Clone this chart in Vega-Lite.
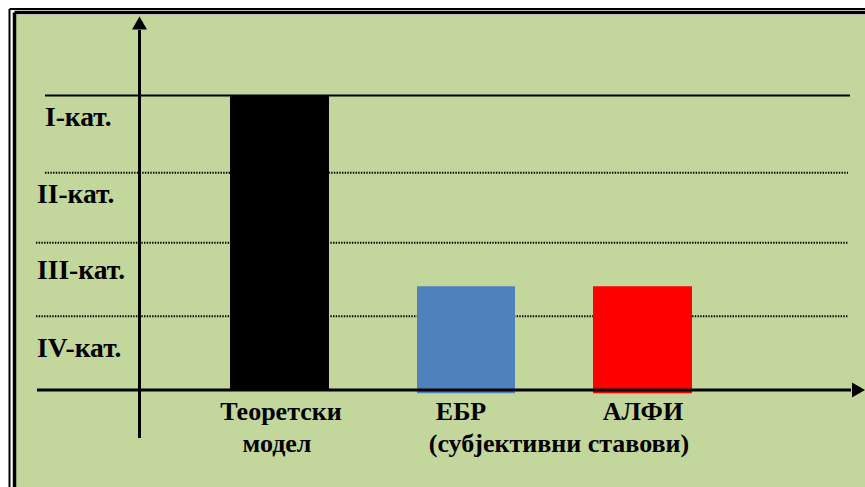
{
  "$schema": "https://vega.github.io/schema/vega-lite/v6.json",
  "width": 865,
  "height": 487,
  "padding": 0,
  "autosize": {"type": "none"},
  "background": "white",
  "config": {"view": {"stroke": null}},
  "datasets": {
    "panel": [{"x": 1.6, "x2": 86.5, "y": 5.093, "y2": -1.3175}],
    "frameThin": [
      {"x": 0.95, "x2": 86.5, "y": 5.175, "y2": 5.175},
      {"x": 0.95, "x2": 0.95, "y": 5.175, "y2": -1.3175}
    ],
    "frameThick": [
      {"x": 1.45, "x2": 86.5, "y": 5.127, "y2": 5.127},
      {"x": 1.45, "x2": 1.45, "y": 5.127, "y2": -1.3175}
    ],
    "solidGrid": [{"x": 4.5, "x2": 85.0, "y": 4.0, "y2": 4.0}],
    "dottedGrid": [
      {"x": 4.5, "x2": 84.8, "y": 2.95, "y2": 2.95},
      {"x": 3.6, "x2": 84.8, "y": 2.0, "y2": 2.0},
      {"x": 3.6, "x2": 84.8, "y": 1.0, "y2": 1.0}
    ],
    "bars": [
      {"category": "Теоретски модел", "x": 23.0, "x2": 32.9, "y": 0, "y2": 4.0},
      {"category": "ЕБР", "x": 41.7, "x2": 51.5, "y": -0.045, "y2": 1.41},
      {"category": "АЛФИ", "x": 59.3, "x2": 69.2, "y": -0.045, "y2": 1.41}
    ],
    "axes": [
      {"x": 3.7, "x2": 85.1, "y": 0, "y2": 0},
      {"x": 13.95, "x2": 13.95, "y": -0.652, "y2": 4.89}
    ],
    "arrowUp": [{"x": 13.95, "y": 4.985}],
    "arrowRight": [{"x": 85.85, "y": 0}],
    "levelLabels": [
      {"label": "I-кат.", "x": 4.5, "y": 3.586},
      {"label": "II-кат.", "x": 3.7, "y": 2.54},
      {"label": "III-кат.", "x": 3.7, "y": 1.508},
      {"label": "IV-кат.", "x": 3.7, "y": 0.448}
    ],
    "barLabels": [
      {"label": "Теоретски", "x": 28.1, "y": -0.407},
      {"label": "модел", "x": 27.7, "y": -0.842},
      {"label": "ЕБР", "x": 46.1, "y": -0.407},
      {"label": "АЛФИ", "x": 64.3, "y": -0.407},
      {"label": "(субјективни ставови)", "x": 55.9, "y": -0.842}
    ]
  },
  "layer": [
    {
      "data": {"name": "panel"},
      "mark": {"type": "rect", "fill": "#c3d69b"},
      "encoding": {
        "x": {"field": "x", "type": "quantitative", "scale": {"domain": [0, 86.5], "nice": false, "zero": false}, "axis": null},
        "x2": {"field": "x2"},
        "y": {"field": "y", "type": "quantitative", "scale": {"domain": [-1.3175, 5.297], "nice": false, "zero": false}, "axis": null},
        "y2": {"field": "y2"}
      }
    },
    {
      "data": {"name": "frameThin"},
      "mark": {"type": "rule", "stroke": "black", "strokeWidth": 2},
      "encoding": {
        "x": {"field": "x", "type": "quantitative", "scale": {"domain": [0, 86.5], "nice": false, "zero": false}, "axis": null},
        "x2": {"field": "x2"},
        "y": {"field": "y", "type": "quantitative", "scale": {"domain": [-1.3175, 5.297], "nice": false, "zero": false}, "axis": null},
        "y2": {"field": "y2"}
      }
    },
    {
      "data": {"name": "frameThick"},
      "mark": {"type": "rule", "stroke": "black", "strokeWidth": 3.5},
      "encoding": {
        "x": {"field": "x", "type": "quantitative", "scale": {"domain": [0, 86.5], "nice": false, "zero": false}, "axis": null},
        "x2": {"field": "x2"},
        "y": {"field": "y", "type": "quantitative", "scale": {"domain": [-1.3175, 5.297], "nice": false, "zero": false}, "axis": null},
        "y2": {"field": "y2"}
      }
    },
    {
      "data": {"name": "solidGrid"},
      "mark": {"type": "rule", "stroke": "black", "strokeWidth": 2},
      "encoding": {
        "x": {"field": "x", "type": "quantitative", "scale": {"domain": [0, 86.5], "nice": false, "zero": false}, "axis": null},
        "x2": {"field": "x2"},
        "y": {"field": "y", "type": "quantitative", "scale": {"domain": [-1.3175, 5.297], "nice": false, "zero": false}, "axis": null},
        "y2": {"field": "y2"}
      }
    },
    {
      "data": {"name": "dottedGrid"},
      "mark": {"type": "rule", "stroke": "black", "strokeWidth": 2, "strokeDash": [1.4, 1.3]},
      "encoding": {
        "x": {"field": "x", "type": "quantitative", "scale": {"domain": [0, 86.5], "nice": false, "zero": false}, "axis": null},
        "x2": {"field": "x2"},
        "y": {"field": "y", "type": "quantitative", "scale": {"domain": [-1.3175, 5.297], "nice": false, "zero": false}, "axis": null},
        "y2": {"field": "y2"}
      }
    },
    {
      "data": {"name": "bars"},
      "mark": {"type": "rect"},
      "encoding": {
        "x": {"field": "x", "type": "quantitative", "scale": {"domain": [0, 86.5], "nice": false, "zero": false}, "axis": null},
        "x2": {"field": "x2"},
        "y": {"field": "y", "type": "quantitative", "scale": {"domain": [-1.3175, 5.297], "nice": false, "zero": false}, "axis": null},
        "y2": {"field": "y2"},
        "color": {"field": "category", "type": "nominal", "scale": {"domain": ["Теоретски модел", "ЕБР", "АЛФИ"], "range": ["#000000", "#4f81bd", "#ff0000"]}, "legend": null}
      }
    },
    {
      "data": {"name": "axes"},
      "mark": {"type": "rule", "stroke": "black", "strokeWidth": 3},
      "encoding": {
        "x": {"field": "x", "type": "quantitative", "scale": {"domain": [0, 86.5], "nice": false, "zero": false}, "axis": null},
        "x2": {"field": "x2"},
        "y": {"field": "y", "type": "quantitative", "scale": {"domain": [-1.3175, 5.297], "nice": false, "zero": false}, "axis": null},
        "y2": {"field": "y2"}
      }
    },
    {
      "data": {"name": "arrowUp"},
      "mark": {"type": "point", "shape": "triangle-up", "filled": true, "fill": "black", "stroke": null, "opacity": 1, "size": 225},
      "encoding": {
        "x": {"field": "x", "type": "quantitative", "scale": {"domain": [0, 86.5], "nice": false, "zero": false}, "axis": null},
        "y": {"field": "y", "type": "quantitative", "scale": {"domain": [-1.3175, 5.297], "nice": false, "zero": false}, "axis": null}
      }
    },
    {
      "data": {"name": "arrowRight"},
      "mark": {"type": "point", "shape": "triangle-right", "filled": true, "fill": "black", "stroke": null, "opacity": 1, "size": 225},
      "encoding": {
        "x": {"field": "x", "type": "quantitative", "scale": {"domain": [0, 86.5], "nice": false, "zero": false}, "axis": null},
        "y": {"field": "y", "type": "quantitative", "scale": {"domain": [-1.3175, 5.297], "nice": false, "zero": false}, "axis": null}
      }
    },
    {
      "data": {"name": "levelLabels"},
      "mark": {"type": "text", "align": "left", "baseline": "alphabetic", "font": "Liberation Serif, Times New Roman, DejaVu Serif, serif", "fontWeight": "bold", "fontSize": 27.5, "fill": "black"},
      "encoding": {
        "x": {"field": "x", "type": "quantitative", "scale": {"domain": [0, 86.5], "nice": false, "zero": false}, "axis": null},
        "y": {"field": "y", "type": "quantitative", "scale": {"domain": [-1.3175, 5.297], "nice": false, "zero": false}, "axis": null},
        "text": {"field": "label"}
      }
    },
    {
      "data": {"name": "barLabels"},
      "mark": {"type": "text", "align": "center", "baseline": "alphabetic", "font": "Liberation Serif, Times New Roman, DejaVu Serif, serif", "fontWeight": "bold", "fontSize": 26, "fill": "black"},
      "encoding": {
        "x": {"field": "x", "type": "quantitative", "scale": {"domain": [0, 86.5], "nice": false, "zero": false}, "axis": null},
        "y": {"field": "y", "type": "quantitative", "scale": {"domain": [-1.3175, 5.297], "nice": false, "zero": false}, "axis": null},
        "text": {"field": "label"}
      }
    }
  ]
}
